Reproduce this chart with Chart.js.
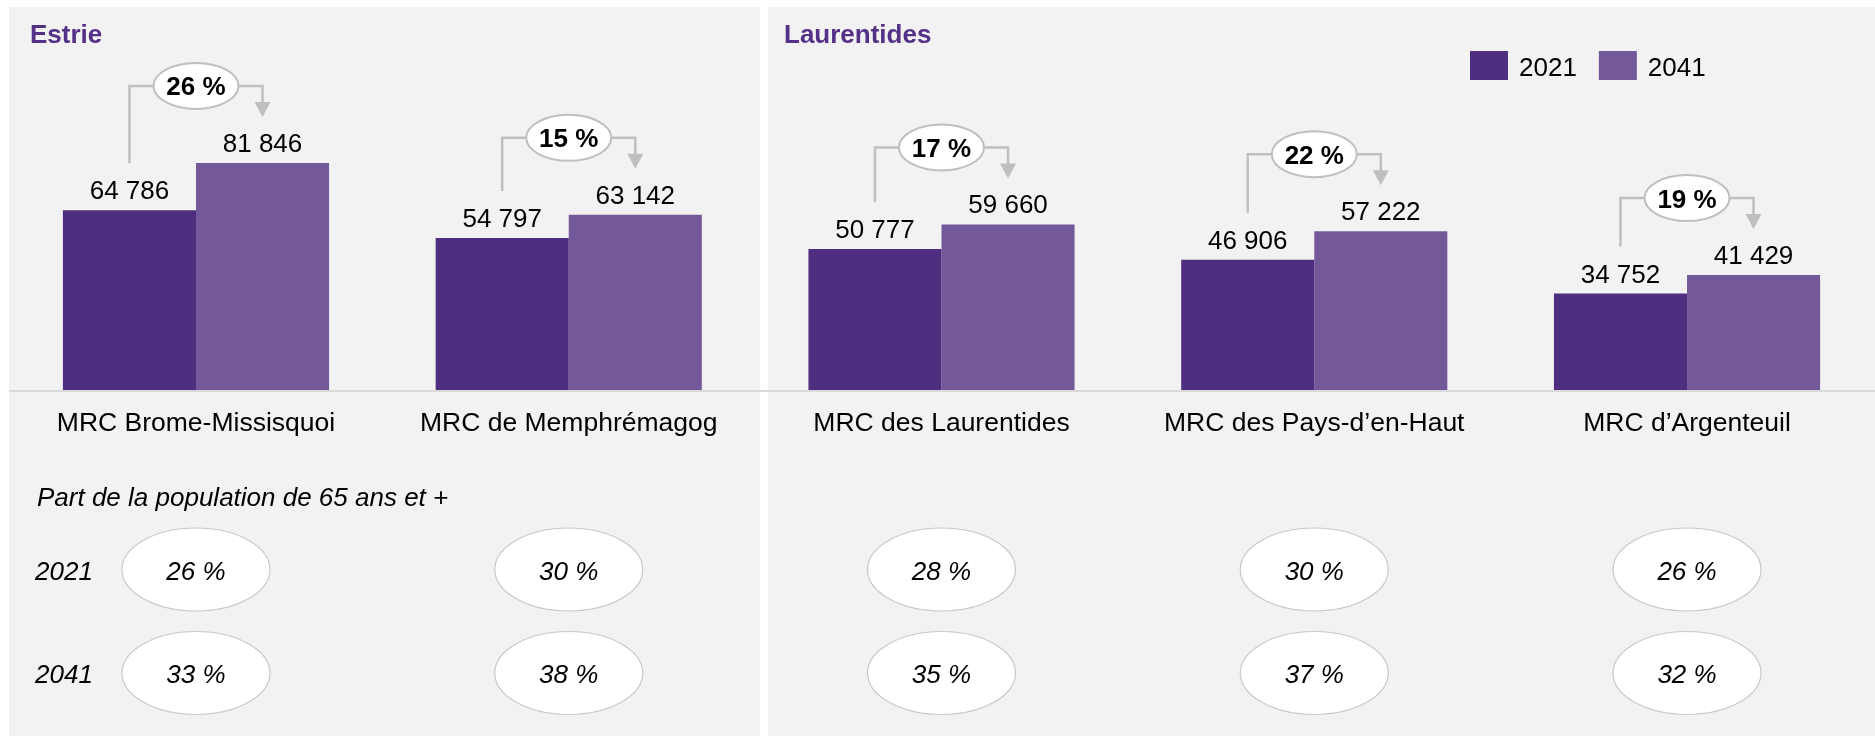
<!DOCTYPE html>
<html><head><meta charset="utf-8">
<script src="https://cdn.jsdelivr.net/npm/chart.js@4"></script>
<style>html,body{margin:0;padding:0;background:#fff}canvas{display:block}</style>
</head><body>
<canvas id="c" width="1875" height="736"></canvas>
<script>
// ---- data ----
const categories = ['MRC Brome-Missisquoi', 'MRC de Memphrémagog', 'MRC des Laurentides', 'MRC des Pays-d\u2019en-Haut', 'MRC d\u2019Argenteuil'];
const seriesLabels = ['2021', '2041'];
const pop2021 = [64786, 54797, 50777, 46906, 34752];
const pop2041 = [81846, 63142, 59660, 57222, 41429];
const growthPct = [26, 15, 17, 22, 19];
const share2021 = [26, 30, 28, 30, 26];
const share2041 = [33, 38, 35, 37, 32];
const regionNames = ['Estrie', 'Laurentides'];
const shareTitle = 'Part de la population de 65 ans et +';

// ---- styles ----
const FONT = "'Liberation Sans', Arial, Helvetica, sans-serif";
const COL_2021 = '#4f2d7f';
const COL_2041 = '#73589a';
const GREY = '#bfbfbf';
const fmt = n => String(n).replace(/\B(?=(\d{3})+(?!\d))/g, ' ');

function ellipse(ctx, cx, cy, rx, ry, fill, stroke, lw) {
  ctx.beginPath();
  ctx.ellipse(cx, cy, rx, ry, 0, 0, Math.PI * 2);
  ctx.fillStyle = fill; ctx.fill();
  ctx.strokeStyle = stroke; ctx.lineWidth = lw; ctx.stroke();
}

const decor = {
  id: 'decor',
  beforeDraw(chart) {
    const ctx = chart.ctx;
    ctx.save();
    ctx.fillStyle = '#ffffff';
    ctx.fillRect(0, 0, chart.width, chart.height);
    ctx.fillStyle = '#f2f2f2';
    ctx.fillRect(9, 7, 751, 729);
    ctx.fillRect(768, 7, 1107, 729);
    ctx.fillStyle = '#553087';
    ctx.font = 'bold 26px ' + FONT;
    ctx.textAlign = 'left';
    ctx.textBaseline = 'alphabetic';
    ctx.fillText(regionNames[0], 30, 43);
    ctx.fillText(regionNames[1], 784, 43);
    ctx.restore();
  },
  afterDatasetsDraw(chart) {
    const ctx = chart.ctx;
    const m0 = chart.getDatasetMeta(0).data;
    const m1 = chart.getDatasetMeta(1).data;
    const xs = chart.scales.x;
    ctx.save();
    // axis line
    ctx.fillStyle = '#d9d9d9';
    ctx.fillRect(9, chart.chartArea.bottom, chart.width - 9, 2);

    // legend
    let lx = 1470;
    ctx.font = '26px ' + FONT;
    ctx.textAlign = 'left';
    ctx.textBaseline = 'alphabetic';
    chart.data.datasets.forEach(ds => {
      ctx.fillStyle = ds.backgroundColor;
      ctx.fillRect(lx, 51, 38, 29);
      ctx.fillStyle = '#000';
      ctx.fillText(ds.label, lx + 49, 76);
      lx += 49 + ctx.measureText(ds.label).width + 22;
    });

    // value labels
    ctx.textAlign = 'center';
    ctx.fillStyle = '#000';
    [[m0, pop2021], [m1, pop2041]].forEach(([meta, vals]) => {
      meta.forEach((b, i) => ctx.fillText(fmt(vals[i]), b.x, b.y - 11));
    });

    // growth brackets
    categories.forEach((c, i) => {
      const b1 = m0[i], b2 = m1[i];
      const hy = b2.y - 77;
      const cx = (b1.x + b2.x) / 2;
      ctx.strokeStyle = GREY; ctx.lineWidth = 2.5; ctx.lineJoin = 'miter';
      ctx.beginPath();
      ctx.moveTo(b1.x, b1.y - 47);
      ctx.lineTo(b1.x, hy);
      ctx.lineTo(cx, hy);
      ctx.stroke();
      ctx.beginPath();
      ctx.moveTo(cx, hy);
      ctx.lineTo(b2.x, hy);
      ctx.lineTo(b2.x, b2.y - 60);
      ctx.stroke();
      // arrow head
      ctx.fillStyle = GREY;
      ctx.beginPath();
      ctx.moveTo(b2.x - 8, b2.y - 61);
      ctx.lineTo(b2.x + 8, b2.y - 61);
      ctx.lineTo(b2.x, b2.y - 46);
      ctx.closePath();
      ctx.fill();
      ellipse(ctx, cx, hy, 42.5, 23, '#ffffff', GREY, 2);
      ctx.fillStyle = '#000';
      ctx.font = 'bold 26px ' + FONT;
      ctx.fillText(growthPct[i] + ' %', cx, hy + 9.5);
    });

    // share section
    ctx.font = 'italic 26px ' + FONT;
    ctx.textAlign = 'left';
    ctx.fillStyle = '#000';
    ctx.fillText(shareTitle, 37, 506);
    ctx.fillText(seriesLabels[0], 35, 580);
    ctx.fillText(seriesLabels[1], 35, 683);
    ctx.textAlign = 'center';
    [[share2021, 569.5], [share2041, 673]].forEach(([vals, cy]) => {
      vals.forEach((v, i) => {
        const cx = xs.getPixelForValue(i);
        ellipse(ctx, cx, cy, 74, 41.5, '#ffffff', '#c8c8c8', 1.2);
        ctx.fillStyle = '#000';
        ctx.fillText(v + ' %', cx, cy + 10);
      });
    });
    ctx.restore();
  }
};

new Chart(document.getElementById('c'), {
  type: 'bar',
  data: {
    labels: categories,
    datasets: [
      { label: seriesLabels[0], data: pop2021, backgroundColor: COL_2021 },
      { label: seriesLabels[1], data: pop2041, backgroundColor: COL_2041 }
    ]
  },
  options: {
    responsive: false,
    animation: false,
    devicePixelRatio: 1,
    categoryPercentage: 0.714,
    barPercentage: 1.0,
    layout: { padding: { left: 9.6, right: 1.6, top: 57, bottom: 0 } },
    plugins: { legend: { display: false }, tooltip: { enabled: false }, title: { display: false } },
    scales: {
      x: {
        grid: { display: false, drawTicks: false },
        border: { display: false },
        ticks: { font: { family: FONT, size: 26.5 }, color: '#000', padding: 18, maxRotation: 0, autoSkip: false },
        afterFit(s) { s.height = 346; }
      },
      y: { display: false, min: 0, max: 120000 }
    }
  },
  plugins: [decor]
});
</script>
</body></html>
